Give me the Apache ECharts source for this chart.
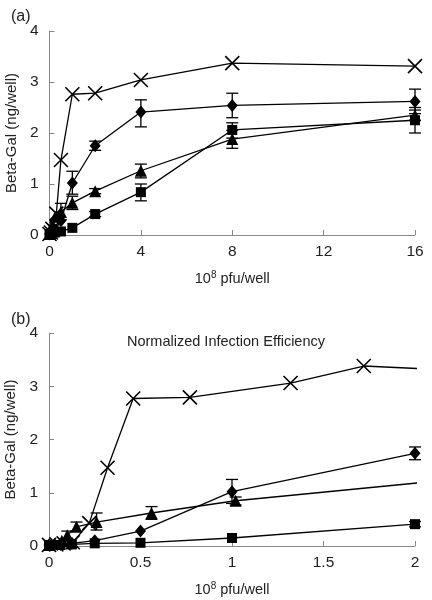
<!DOCTYPE html>
<html><head><meta charset="utf-8">
<script src="https://cdn.jsdelivr.net/npm/echarts@6/dist/echarts.min.js"></script>
<style>html,body{margin:0;padding:0;background:#fff}#c{width:432px;height:600px}</style>
</head><body><div id="c"></div>
<script>
// Panel (a)
const xA = [0, 0.0625, 0.125, 0.25, 0.5, 1, 2, 4, 8, 16];
const xA_cross = [0, 0.0625, 0.125, 0.3, 0.5, 1, 2, 4, 8, 16];
const yA_cross = [0.02, 0.05, 0.12, 0.42, 1.47, 2.76, 2.78, 3.04, 3.37, 3.31];
const yA_diamond = [0.02, 0.03, 0.05, 0.1, 0.28, 1.02, 1.75, 2.41, 2.54, 2.62];
const yA_triangle = [0.02, 0.05, 0.2, 0.36, 0.45, 0.63, 0.86, 1.26, 1.88, 2.35];
const yA_square = [0.02, 0.02, 0.03, 0.05, 0.07, 0.14, 0.41, 0.84, 2.06, 2.25];
const errA_diamond = [[1, 0.8, 1.25], [2, 1.66, 1.84], [4, 2.12, 2.65], [8, 2.3, 2.78], [16, 2.38, 2.86]];
const errA_triangle = [[0.5, 0.3, 0.62], [1, 0.5, 0.76], [2, 0.81, 0.91], [4, 1.12, 1.39], [8, 1.7, 2.05], [16, 2.25, 2.45]];
const errA_square = [[2, 0.36, 0.46], [4, 0.67, 1.0], [8, 1.9, 2.2], [16, 2.0, 2.5]];
const xTicksA = [0, 4, 8, 12, 16];

// Panel (b)
const xB_cross = [0, 0.04, 0.08, 0.13, 0.22, 0.32, 0.46, 0.77, 1.32, 1.72, 2.03];
const yB_cross = [0.02, 0.03, 0.05, 0.07, 0.43, 1.47, 2.77, 2.79, 3.06, 3.38, 3.33];
const xB_diamond = [0, 0.0625, 0.125, 0.25, 0.5, 1, 2];
const yB_diamond = [0.02, 0.03, 0.05, 0.1, 0.28, 1.02, 1.74];
const xB_triangle = [0, 0.03, 0.07, 0.1, 0.15, 0.26, 0.56, 1.02, 2.03];
const yB_triangle = [0.02, 0.04, 0.1, 0.2, 0.36, 0.45, 0.62, 0.85, 1.19];
const xB_square = [0, 0.0625, 0.125, 0.25, 0.5, 1, 2];
const yB_square = [0.02, 0.02, 0.03, 0.05, 0.06, 0.15, 0.41];
const errB_diamond = [[1, 0.8, 1.25], [2, 1.62, 1.86]];
const errB_triangle = [[0.1, 0.12, 0.28], [0.15, 0.28, 0.45], [0.26, 0.3, 0.62], [0.56, 0.5, 0.74], [1.02, 0.77, 0.92]];
const errB_square = [[2, 0.36, 0.46]];

const FONT = 'Liberation Sans';
const CROSS = 'path://M0,0L10,10M0,10L10,0';

function pairs(xs, ys, lastNoSymbol) {
  return xs.map((x, i) => {
    if (lastNoSymbol && i === xs.length - 1) return { value: [x, ys[i]], symbolSize: 0 };
    return [x, ys[i]];
  });
}
function lineSeries(idx, data, symbol, size, isCross) {
  return {
    type: 'line', xAxisIndex: idx, yAxisIndex: idx, data: data,
    symbol: symbol, symbolSize: size, showAllSymbol: true, clip: false,
    lineStyle: { color: '#000', width: 1.3 },
    itemStyle: isCross ? { color: 'transparent', borderColor: '#000', borderWidth: 1.6 } : { color: '#000' },
    z: 3, animation: false
  };
}
function errSeries(idx, data) {
  return {
    type: 'custom', xAxisIndex: idx, yAxisIndex: idx, data: data, z: 2, animation: false,
    renderItem: function (params, api) {
      const x = api.value(0);
      const lo = api.coord([x, api.value(1)]);
      const hi = api.coord([x, api.value(2)]);
      const w = 6;
      const st = { stroke: '#000', lineWidth: 1.3 };
      return { type: 'group', children: [
        { type: 'line', shape: { x1: lo[0], y1: lo[1], x2: hi[0], y2: hi[1] }, style: st },
        { type: 'line', shape: { x1: lo[0] - w, y1: lo[1], x2: lo[0] + w, y2: lo[1] }, style: st },
        { type: 'line', shape: { x1: hi[0] - w, y1: hi[1], x2: hi[0] + w, y2: hi[1] }, style: st }
      ]};
    }
  };
}
function xAxis(idx, max, interval) {
  return {
    type: 'value', gridIndex: idx, min: 0, max: max, interval: interval,
    name: '{a|10}{s|8}{a| pfu/well}', nameLocation: 'middle', nameGap: 35,
    nameTextStyle: { rich: {
      a: { fontFamily: FONT, fontSize: 14.5, color: '#222' },
      s: { fontFamily: FONT, fontSize: 10, color: '#222', verticalAlign: 'top', padding: [0, 0, 8, 0] } } },
    axisLine: { onZero: false, lineStyle: { color: '#888', width: 1 } },
    axisTick: { inside: true, length: 5, lineStyle: { color: '#888' } },
    axisLabel: { fontFamily: FONT, fontSize: 15.5, color: '#222', margin: 9 },
    splitLine: { show: false }
  };
}
function yAxis(idx) {
  return {
    type: 'value', gridIndex: idx, min: 0, max: 4, interval: 1,
    name: 'Beta-Gal (ng/well)', nameLocation: 'middle', nameGap: 26, nameRotate: 90,
    nameTextStyle: { fontFamily: FONT, fontSize: 15, color: '#222' },
    axisLine: { show: true, lineStyle: { color: '#888', width: 1 } },
    axisTick: { show: true, inside: true, length: 5, lineStyle: { color: '#888' } },
    axisLabel: { fontFamily: FONT, fontSize: 15.5, color: '#222', margin: 11 },
    splitLine: { show: false }
  };
}

const chart = echarts.init(document.getElementById('c'), null, { renderer: 'canvas' });
chart.setOption({
  backgroundColor: '#fff',
  animation: false,
  title: [
    { text: '(a)', left: 6, top: 4, textStyle: { fontFamily: FONT, fontSize: 16, fontWeight: 'normal', color: '#222' } },
    { text: '(b)', left: 6, top: 307, textStyle: { fontFamily: FONT, fontSize: 16, fontWeight: 'normal', color: '#222' } },
    { text: 'Normalized Infection Efficiency', left: 221, textAlign: 'center', top: 329, textStyle: { fontFamily: FONT, fontSize: 14.5, fontWeight: 'normal', color: '#222' } }
  ],
  grid: [
    { left: 49.5, right: 17, top: 31, bottom: 365, containLabel: false, outerBoundsMode: 'none' },
    { left: 49, right: 17, top: 333, bottom: 54, containLabel: false, outerBoundsMode: 'none' }
  ],
  xAxis: [xAxis(0, 16, 4), xAxis(1, 2, 0.5)],
  yAxis: [yAxis(0), yAxis(1)],
  series: [
    errSeries(0, errA_diamond), errSeries(0, errA_triangle), errSeries(0, errA_square),
    lineSeries(0, pairs(xA_cross, yA_cross), CROSS, 14, true),
    lineSeries(0, pairs(xA, yA_diamond), 'diamond', [11, 13]),
    lineSeries(0, pairs(xA, yA_triangle), 'triangle', 12),
    lineSeries(0, pairs(xA, yA_square), 'rect', 10),
    errSeries(1, errB_diamond), errSeries(1, errB_triangle), errSeries(1, errB_square),
    lineSeries(1, pairs(xB_cross, yB_cross, true), CROSS, 14, true),
    lineSeries(1, pairs(xB_diamond, yB_diamond), 'diamond', [11, 13]),
    lineSeries(1, pairs(xB_triangle, yB_triangle, true), 'triangle', 12),
    lineSeries(1, pairs(xB_square, yB_square), 'rect', 10)
  ]
});
</script></body></html>
